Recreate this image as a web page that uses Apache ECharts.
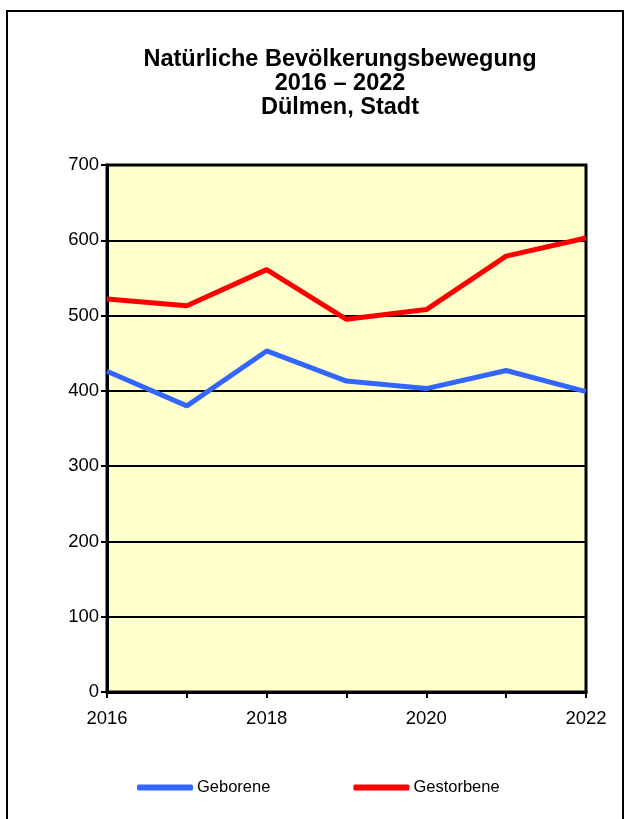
<!DOCTYPE html>
<html>
<head>
<meta charset="utf-8">
<script src="https://cdn.jsdelivr.net/npm/echarts@6/dist/echarts.min.js"></script>
<style>
html,body{margin:0;padding:0;background:#fff;}
#c{width:625px;height:819px;}
</style>
</head>
<body>
<div id="c"></div>
<script>
const years = ['2016','2017','2018','2019','2020','2021','2022'];
const geborene = [426, 380, 453, 413, 403, 427, 399];
const gestorbene = [522, 513, 561, 495, 508, 579, 603];
const yTicks = [0, 100, 200, 300, 400, 500, 600, 700];
const titleText = 'Natürliche Bevölkerungsbewegung\n2016 – 2022\nDülmen, Stadt';

const chart = echarts.init(document.getElementById('c'), null, {renderer: 'canvas'});
const font = 'Liberation Sans, Arial, sans-serif';
chart.setOption({
  animation: false,
  backgroundColor: '#ffffff',
  textStyle: {fontFamily: font, color: '#000'},
  title: {
    text: titleText,
    left: 335,
    textAlign: 'center',
    top: 43,
    textStyle: {fontFamily: font, fontSize: 23.5, fontWeight: 'bold', color: '#000', lineHeight: 24}
  },
  graphic: [{
    type: 'polyline',
    shape: {points: [[7, 830], [7, 11], [623, 11], [623, 830]]},
    style: {stroke: '#000', lineWidth: 2, fill: null},
    silent: true
  }],
  grid: {
    left: 107, right: 39, top: 165, bottom: 127,
    show: true, backgroundColor: '#FFFFCC', borderColor: '#000', borderWidth: 3
  },
  legend: {
    left: 132, top: 774,
    icon: 'roundRect',
    itemWidth: 56, itemHeight: 6, itemGap: 83,
    textStyle: {fontFamily: font, fontSize: 16.5, color: '#000', padding: [0,0,0,-1]},
    data: ['Geborene', 'Gestorbene']
  },
  xAxis: {
    type: 'category',
    data: years,
    boundaryGap: false,
    axisLine: {show: true, lineStyle: {color: '#000', width: 3}},
    axisTick: {show: true, interval: 0, length: 6, lineStyle: {color: '#000', width: 2}},
    axisLabel: {interval: 1, fontFamily: font, fontSize: 18.5, color: '#000', margin: 17},
    splitLine: {show: false}
  },
  yAxis: {
    type: 'value',
    min: 0, max: 700, interval: 100,
    axisLine: {show: true, lineStyle: {color: '#000', width: 3}},
    axisTick: {show: true, length: 6, lineStyle: {color: '#000', width: 2}},
    axisLabel: {fontFamily: font, fontSize: 18.5, color: '#000', margin: 8,
      formatter: v => yTicks.includes(v) ? String(v) : ''},
    splitLine: {show: true, lineStyle: {color: '#000', width: 2}}
  },
  series: [
    {name: 'Geborene', type: 'line', data: geborene, symbol: 'none',
     lineStyle: {color: '#3366FF', width: 5}, itemStyle: {color: '#3366FF'}},
    {name: 'Gestorbene', type: 'line', data: gestorbene, symbol: 'none',
     lineStyle: {color: '#FF0000', width: 5}, itemStyle: {color: '#FF0000'}}
  ]
});
</script>
</body>
</html>
